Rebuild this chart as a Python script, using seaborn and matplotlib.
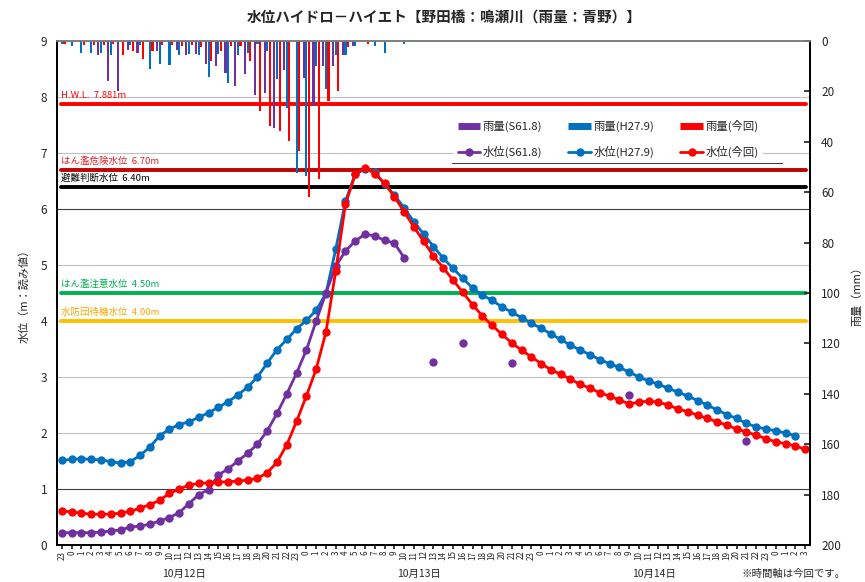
import numpy as np
import pandas as pd
import matplotlib
matplotlib.use("Agg")
import matplotlib.pyplot as plt
from matplotlib.lines import Line2D
import seaborn as sns

sns.set_theme(style="white")
plt.rcParams['font.family'] = ['Noto Sans CJK JP', 'DejaVu Sans']

# hourly axis: 10/11 23h -> 10/15 3h
hour_labels = ['23'] + [str(h) for h in range(24)] * 3 + ['0', '1', '2', '3']
date_labels = ['10月12日', '10月13日', '10月14日']

# water level (m)
wl_s61 = [0.22, 0.22, 0.22, 0.22, 0.23, 0.25, 0.27, 0.32, 0.34, 0.37,
          0.43, 0.49, 0.58, 0.74, 0.90, 0.99, 1.25, 1.36, 1.50, 1.64,
          1.80, 2.04, 2.35, 2.70, 3.07, 3.48, 4.00, 4.50, 4.98, 5.25,
          5.43, 5.55, 5.52, 5.44, 5.39, 5.13, np.nan, np.nan, 3.27, np.nan,
          np.nan, 3.61, np.nan, np.nan, np.nan, np.nan, 3.25, np.nan, np.nan, np.nan,
          np.nan, np.nan, np.nan, np.nan, np.nan, np.nan, np.nan, np.nan, 2.67, np.nan,
          np.nan, np.nan, np.nan, np.nan, np.nan, np.nan, np.nan, np.nan, np.nan, np.nan,
          1.85, np.nan, np.nan, np.nan, np.nan, np.nan, np.nan]
wl_h27 = [1.51, 1.53, 1.54, 1.53, 1.52, 1.49, 1.46, 1.49, 1.60, 1.75,
          1.95, 2.07, 2.15, 2.20, 2.28, 2.36, 2.46, 2.56, 2.68, 2.82,
          3.00, 3.25, 3.49, 3.67, 3.86, 4.01, 4.19, 4.49, 5.28, 6.14,
          6.63, 6.71, 6.66, 6.44, 6.25, 6.02, 5.77, 5.55, 5.33, 5.12,
          4.94, 4.76, 4.59, 4.46, 4.37, 4.25, 4.16, 4.06, 3.96, 3.87,
          3.77, 3.67, 3.57, 3.48, 3.40, 3.31, 3.24, 3.17, 3.09, 3.00,
          2.93, 2.87, 2.80, 2.73, 2.66, 2.58, 2.50, 2.41, 2.33, 2.26,
          2.17, 2.11, 2.07, 2.04, 2.00, 1.95, np.nan]
wl_now = [0.61, 0.59, 0.57, 0.55, 0.55, 0.55, 0.57, 0.60, 0.66, 0.72,
          0.80, 0.92, 1.00, 1.07, 1.10, 1.11, 1.12, 1.13, 1.14, 1.16,
          1.19, 1.29, 1.48, 1.79, 2.21, 2.66, 3.14, 3.80, 4.89, 6.09,
          6.62, 6.74, 6.63, 6.46, 6.22, 5.95, 5.68, 5.42, 5.16, 4.95,
          4.73, 4.51, 4.29, 4.09, 3.92, 3.76, 3.61, 3.48, 3.36, 3.24,
          3.13, 3.05, 2.96, 2.87, 2.80, 2.72, 2.66, 2.59, 2.52, 2.55,
          2.57, 2.55, 2.50, 2.43, 2.38, 2.32, 2.26, 2.20, 2.14, 2.07,
          2.02, 1.96, 1.90, 1.84, 1.81, 1.77, 1.71]

# rainfall (mm/h), zeros after the storm
rain_s61 = [0.5, 0, 0, 0, 5.4, 15.9, 19.7, 3.5, 4.8, 0,
            3.9, 0, 3.6, 5.5, 5.0, 9.2, 10.0, 12.6, 18.0, 13.0,
            21.5, 20.7, 34.6, 11.5, 0, 14.8, 25.9, 10.0, 10.0, 5.4,
            2.0] + [0] * 46
rain_h27 = [1.0, 2.0, 4.8, 4.8, 4.8, 5.4, 0, 1.7, 1.7, 11.0,
            9.2, 9.5, 5.6, 5.0, 5.5, 14.2, 5.0, 16.8, 5.5, 4.9,
            1.2, 4.0, 15.0, 26.6, 52.5, 53.7, 10.0, 18.9, 5.4, 5.4,
            2.0, 0, 2.0, 4.9, 0, 1.0] + [0] * 39 + [0.5, 0]
rain_now = [1.0, 0.5, 1.7, 1.7, 1.7, 1.0, 5.7, 3.8, 7.2, 3.8,
            1.7, 1.7, 2.0, 1.7, 2.5, 8.0, 3.8, 2.0, 2.0, 7.8,
            27.7, 33.6, 35.6, 39.6, 43.8, 62.0, 54.6, 24.0, 19.7, 2.5,
            0.5, 1.2] + [0] * 45

series_names = ['S61.8', 'H27.9', '今回']
colors = ['#7030A0', '#0070C0', '#FF0000']

ref_levels = [7.881, 6.70, 6.40, 4.50, 4.00]
ref_names = ['H.W.L.  7.881m', 'はん濫危険水位  6.70m', '避難判断水位  6.40m',
             'はん濫注意水位  4.50m', '水防団待機水位  4.00m']
ref_colors = ['#FF0000', '#C00000', '#000000', '#00B050', '#FFC000']
ref_text_colors = ['#FF0000', '#E0202A', '#000000', '#00B050', '#F5A800']

idx = np.arange(len(hour_labels))

fig = plt.figure(figsize=(8.65, 5.82), dpi=100)
ax = fig.add_axes([57 / 865, 1 - 545 / 582, 753 / 865, 504 / 582])
ax2 = ax.twinx()

# rain bars (hanging from top)
rain_df = pd.DataFrame({
    'hour': np.tile(idx, 3),
    'mm': np.concatenate([rain_s61, rain_h27, rain_now]),
    'series': np.repeat(series_names, len(idx)),
})
sns.barplot(data=rain_df, x='hour', y='mm', hue='series', hue_order=series_names,
            palette=colors, errorbar=None, width=0.8, gap=0.2, legend=False,
            saturation=1, linewidth=0, edgecolor='none', ax=ax2)
ax2.set_ylim(200, 0)
ax2.set_yticks(range(0, 201, 20))
ax2.set_ylabel('雨量（mm）', fontsize=8, labelpad=8)
ax2.set_xlabel('')
ax2.tick_params(axis='y', direction='in', length=4, labelsize=8.5, right=True, pad=8)

# grid + reference levels
for v in range(1, 9):
    ax.axhline(v, color='#404040' if v in (1, 6) else '#C0C0C0', lw=0.8, zorder=0)
for lev, name, c, tc in zip(ref_levels, ref_names, ref_colors, ref_text_colors):
    ax.axhline(lev, color=c, lw=2.8, zorder=1, xmin=0.005, xmax=0.995)
    ax.text(-0.1, lev + 0.07, name, color=tc, fontsize=6.8, va='bottom', ha='left')

# water levels
sns.lineplot(x=idx, y=wl_h27, color=colors[1], marker='o', markersize=6,
             markeredgewidth=0, linewidth=2, ax=ax, zorder=3)
sns.lineplot(x=idx, y=wl_now, color=colors[2], marker='o', markersize=6,
             markeredgewidth=0, linewidth=2, ax=ax, zorder=4)
s61 = np.array(wl_s61)
run_end = int(np.argmax(np.isnan(s61)))
sns.lineplot(x=idx[:run_end], y=s61[:run_end], color=colors[0], marker='o',
             markersize=6, markeredgewidth=0, linewidth=2, ax=ax, zorder=3)
rest = ~np.isnan(s61) & (idx >= run_end)
sns.scatterplot(x=idx[rest], y=s61[rest], color=colors[0], s=36, linewidth=0,
                ax=ax, zorder=3)

ax.set_ylim(0, 9)
ax.set_yticks(range(0, 10))
ax.set_ylabel('水位（m：読み値）', fontsize=8, labelpad=8)
ax.tick_params(axis='y', length=0, labelsize=8.5, pad=7)
ax.set_xlim(-0.5, len(idx) - 0.5)
ax.set_xticks(idx)
ax.set_xticklabels(hour_labels, rotation=90, fontsize=5.8)
ax.tick_params(axis='x', length=3, direction='out', pad=1, bottom=True)
for sp in ['left', 'bottom', 'right']:
    ax.spines[sp].set_color('#000000')
    ax2.spines[sp].set_color('#000000')
ax.spines['top'].set_color('#808080')
ax2.spines['top'].set_color('#808080')

# date labels under each day
zero_pos = [i for i, h in enumerate(hour_labels) if h == '0']
for d, start in zip(date_labels, zero_pos):
    ax.text(start + 11.5, -0.058, d, transform=ax.get_xaxis_transform(),
            ha='center', va='center', fontsize=7.5)
fig.text(0.977, 0.013, '※時間軸は今回です。', ha='right', va='center', fontsize=7.5)

fig.text(0.514, 0.972, '水位ハイドロ－ハイエト【野田橋：鳴瀬川（雨量：青野）】',
         ha='center', va='center', fontsize=10.5, fontweight='bold')

# legend
handles = []
labels = []
for name, c in zip(series_names, colors):
    handles += [Line2D([], [], color=c, lw=5, solid_capstyle='butt'),
                Line2D([], [], color=c, lw=2, marker='o', markersize=6, markeredgewidth=0)]
    labels += ['雨量(' + name + ')', '水位(' + name + ')']
leg = ax2.legend(handles, labels, ncol=3, loc='upper left', bbox_to_anchor=(0.52, 0.862),
                 fontsize=8.2, frameon=True, edgecolor='white', facecolor='white',
                 framealpha=1, handlelength=2.0, handletextpad=0.2, columnspacing=2.3,
                 labelspacing=1.25, borderpad=0.3)
ax2.add_line(Line2D([0.525, 0.963], [0.757, 0.757], transform=ax2.transAxes,
                    color='#404040', lw=0.8, zorder=6))

fig.savefig('out.png', dpi=100)
